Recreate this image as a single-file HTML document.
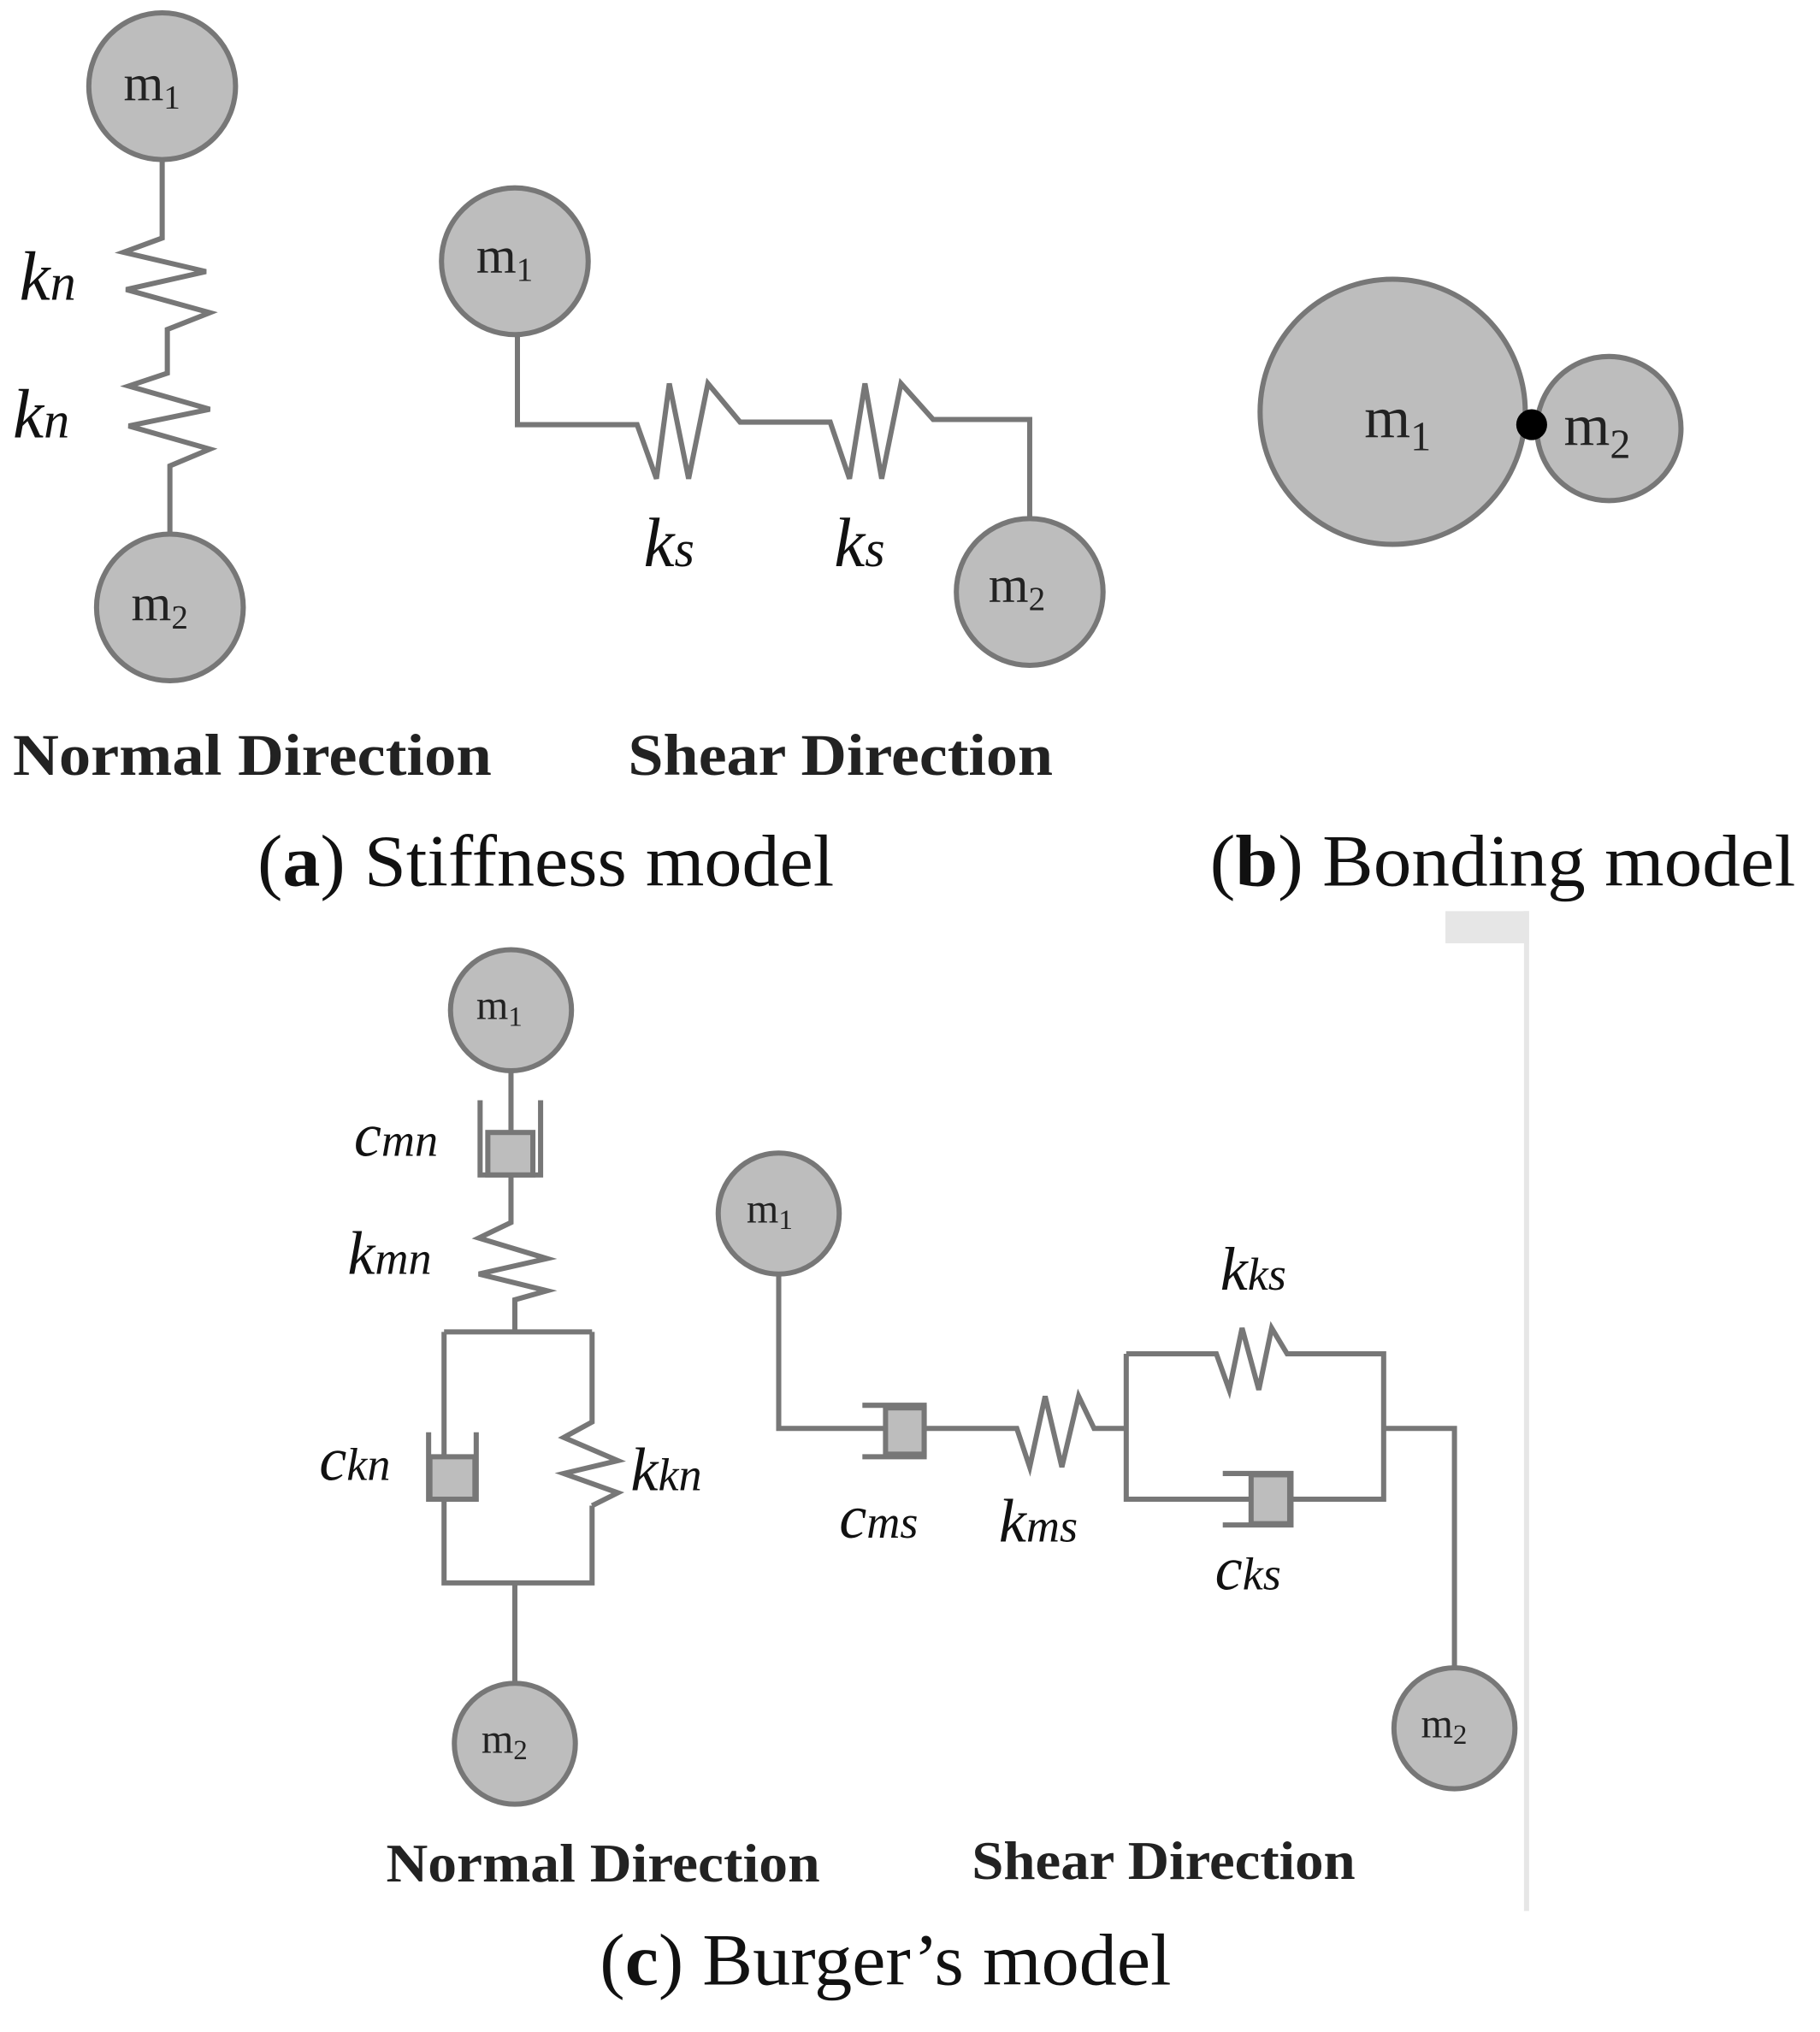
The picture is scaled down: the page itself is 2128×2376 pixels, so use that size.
<!DOCTYPE html>
<html><head><meta charset="utf-8"><style>
html,body{margin:0;padding:0;background:#fff}
svg{display:block}
.t{font-family:"Liberation Serif",serif}
</style></head><body>
<svg width="2128" height="2376" viewBox="0 0 1414 1579" preserveAspectRatio="none" xmlns="http://www.w3.org/2000/svg">
<g fill="none" stroke="#777" stroke-width="4" stroke-linejoin="miter">
<path d="M126 124 V185 L96 196 L160 211 L98 225 L163 243 L130 256 V290 L100 300 L163 318 L100 331 L163 349 L132 362 V416"/>
<path d="M402 260 V330 H495 L510 372 L520 298 L535 372 L550 298 L575 328 H645 L660 372 L672 298 L685 372 L700 298 L725 326 H800 V405"/>
<path d="M397 832 V880"/>
<path d="M373 855 V913 H420 V855"/>
<path d="M397 913 V950 L372 962 L425 978 L372 990 L425 1003 L400 1010 V1035"/>
<path d="M345 1035 H460 M345 1035 V1132 M345 1165 V1230 H460 V1170 M460 1035 V1105 L438 1117 L480 1135 L438 1145 L480 1160 L460 1170"/>
<path d="M333 1113 V1165 H370 V1113"/>
<path d="M400 1230 V1310"/>
<path d="M605 990 V1110 H692"/>
<path d="M670 1092 H718 V1132 H670"/>
<path d="M718 1110 H790 L800 1140 L812 1085 L825 1140 L838 1085 L850 1110 H875"/>
<path d="M875 1052 V1165 H985 M875 1052 H945 L955 1080 L965 1032 L978 1080 L988 1032 L1000 1052 H1075 V1165 H1003"/>
<path d="M950 1145 H1003 V1185 H950"/>
<path d="M1075 1110 H1130 V1298"/>
</g>
<g fill="#bdbdbd" stroke="#777" stroke-width="4">
<circle cx="126" cy="67" r="57"/>
<circle cx="132" cy="472" r="57"/>
<circle cx="400" cy="203" r="57"/>
<circle cx="800" cy="460" r="57"/>
<circle cx="1082" cy="320" r="103"/>
<circle cx="1250" cy="333" r="56"/>
<circle cx="397" cy="785" r="47"/>
<circle cx="400" cy="1355" r="47"/>
<circle cx="605" cy="943" r="47"/>
<circle cx="1130" cy="1343" r="47"/>
<rect x="379" y="880" width="35" height="33"/>
<rect x="334" y="1132" width="35" height="33"/>
<rect x="688" y="1094" width="30" height="36"/>
<rect x="972" y="1146" width="30" height="38"/>
</g>
<circle cx="1190" cy="330" r="12" fill="#000"/>
<rect x="1123" y="708" width="65" height="25" fill="#e6e6e6"/>
<rect x="1184" y="708" width="4" height="777" fill="#e6e6e6"/>
<g class="t" fill="#222" font-size="40">
<text x="96" y="78">m<tspan font-size="26" dy="6">1</tspan></text>
<text x="102" y="482">m<tspan font-size="26" dy="6">2</tspan></text>
<text x="370" y="212">m<tspan font-size="26" dy="6">1</tspan></text>
<text x="768" y="468">m<tspan font-size="26" dy="6">2</tspan></text>
<text x="1060" y="340" font-size="46">m<tspan font-size="32" dy="10">1</tspan></text>
<text x="1215" y="346" font-size="46">m<tspan font-size="32" dy="10">2</tspan></text>
<text x="370" y="792" font-size="32">m<tspan font-size="22" dy="5">1</tspan></text>
<text x="374" y="1362" font-size="32">m<tspan font-size="22" dy="5">2</tspan></text>
<text x="580" y="950" font-size="32">m<tspan font-size="22" dy="5">1</tspan></text>
<text x="1104" y="1350" font-size="32">m<tspan font-size="22" dy="5">2</tspan></text>
</g>
<g class="t" fill="#111" font-style="italic" font-size="54">
<text x="15" y="233">k<tspan font-size="40">n</tspan></text>
<text x="10" y="340">k<tspan font-size="40">n</tspan></text>
<text x="500" y="440">k<tspan font-size="40">s</tspan></text>
<text x="648" y="440">k<tspan font-size="40">s</tspan></text>
<text x="275" y="898" font-size="48">c<tspan font-size="36">mn</tspan></text>
<text x="270" y="990" font-size="48">k<tspan font-size="36">mn</tspan></text>
<text x="248" y="1150" font-size="48">c<tspan font-size="36">kn</tspan></text>
<text x="490" y="1158" font-size="48">k<tspan font-size="36">kn</tspan></text>
<text x="948" y="1002" font-size="48">k<tspan font-size="36">ks</tspan></text>
<text x="652" y="1195" font-size="48">c<tspan font-size="36">ms</tspan></text>
<text x="776" y="1198" font-size="48">k<tspan font-size="36">ms</tspan></text>
<text x="944" y="1235" font-size="48">c<tspan font-size="36">ks</tspan></text>
</g>
<g class="t" fill="#222" font-size="46" font-weight="bold">
<text x="10" y="602" textLength="372" lengthAdjust="spacingAndGlyphs">Normal Direction</text>
<text x="488" y="602" textLength="330" lengthAdjust="spacingAndGlyphs">Shear Direction</text>
<text x="300" y="1462" font-size="42" textLength="337" lengthAdjust="spacingAndGlyphs">Normal Direction</text>
<text x="755" y="1460" font-size="42" textLength="298" lengthAdjust="spacingAndGlyphs">Shear Direction</text>
</g>
<g class="t" fill="#111" font-size="57">
<text x="200" y="688" textLength="448" lengthAdjust="spacingAndGlyphs">(<tspan font-weight="bold">a</tspan>) Stiffness model</text>
<text x="940" y="688" textLength="455" lengthAdjust="spacingAndGlyphs">(<tspan font-weight="bold">b</tspan>) Bonding model</text>
<text x="466" y="1542" textLength="444" lengthAdjust="spacingAndGlyphs">(<tspan font-weight="bold">c</tspan>) Burger’s model</text>
</g>
</svg>
</body></html>
